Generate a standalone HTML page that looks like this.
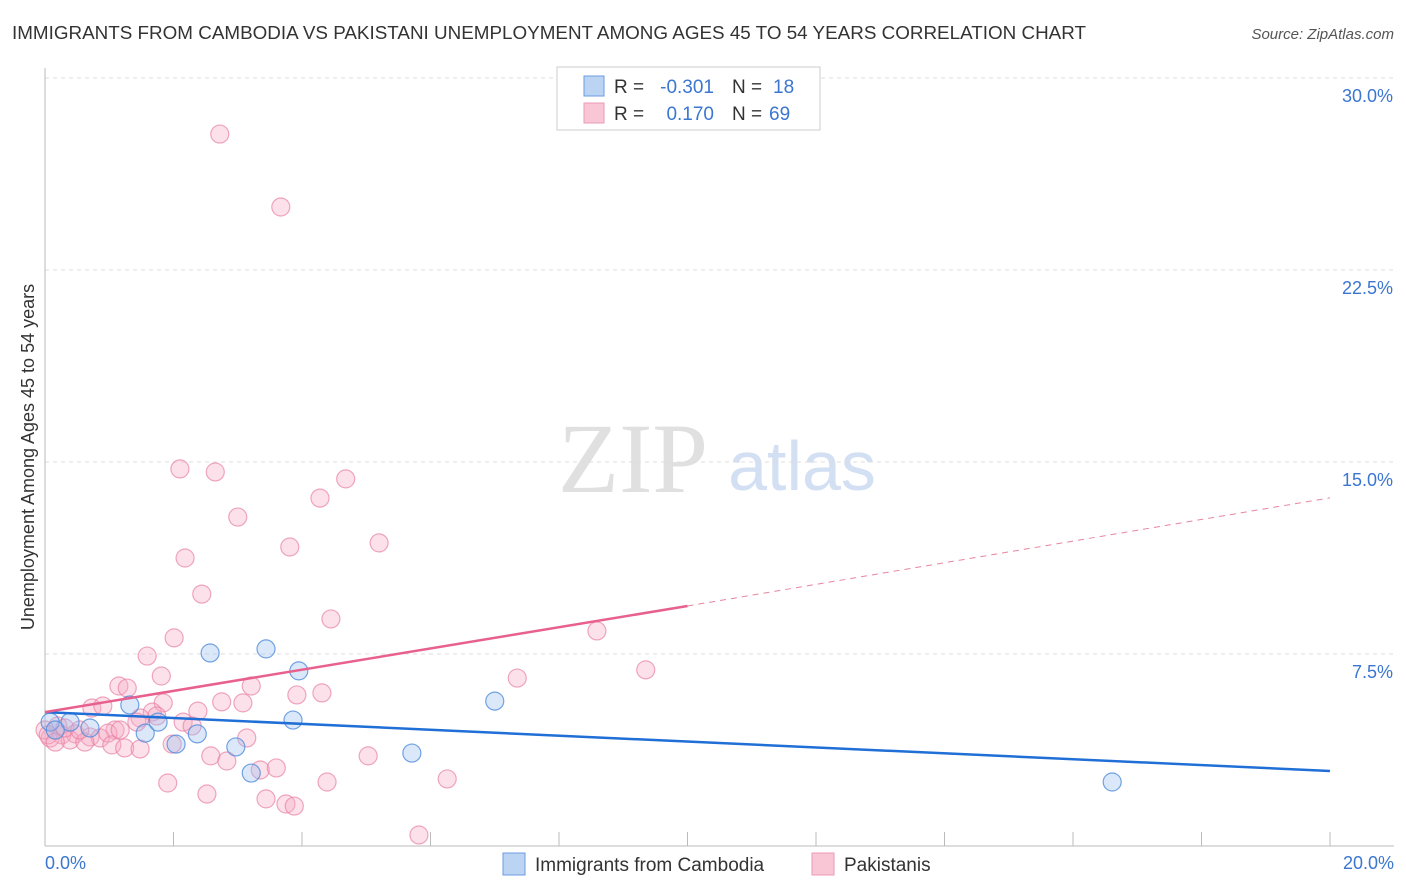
<!DOCTYPE html>
<html><head><meta charset="utf-8"><style>
body{margin:0;background:#fff;font-family:"Liberation Sans",sans-serif;}
</style></head><body>
<svg width="1406" height="892" viewBox="0 0 1406 892" style="position:absolute;left:0;top:0">
<text x="12" y="39" font-size="18" fill="#333" textLength="1074" lengthAdjust="spacingAndGlyphs">IMMIGRANTS FROM CAMBODIA VS PAKISTANI UNEMPLOYMENT AMONG AGES 45 TO 54 YEARS CORRELATION CHART</text>
<text x="1394" y="39" font-size="15" fill="#555" font-style="italic" text-anchor="end">Source: ZipAtlas.com</text>
<text x="633" y="492" font-size="100" fill="#e0e0e0" font-family="Liberation Serif,serif" text-anchor="middle">ZIP</text>
<text x="802" y="490" font-size="70" fill="#d3dff2" text-anchor="middle">atlas</text>
<g id="grid"></g>
<g id="axes"></g>
<g id="pts"></g>
<g id="lines"></g>
<text transform="translate(34,457) rotate(-90)" font-size="18" fill="#333" text-anchor="middle">Unemployment Among Ages 45 to 54 years</text>
<text x="45" y="869" font-size="18" fill="#3b76d0">0.0%</text>
<text x="1394" y="869" font-size="18" fill="#3b76d0" text-anchor="end">20.0%</text>
<g>
<rect x="557" y="67" width="263" height="63" fill="#fff" stroke="#ccc"/>
<rect x="584" y="76" width="20" height="20" fill="#bcd4f4" stroke="#6b9be0"/>
<rect x="584" y="103" width="20" height="20" fill="#f9c6d6" stroke="#eb9ab5"/>
<text x="614" y="93" font-size="19" fill="#333">R =</text>
<text x="714" y="93" font-size="19" fill="#3b76d0" text-anchor="end">-0.301</text>
<text x="732" y="93" font-size="19" fill="#333">N =</text>
<text x="773" y="93" font-size="19" fill="#3b76d0">18</text>
<text x="614" y="120" font-size="19" fill="#333">R =</text>
<text x="714" y="120" font-size="19" fill="#3b76d0" text-anchor="end">0.170</text>
<text x="732" y="120" font-size="19" fill="#333">N =</text>
<text x="769" y="120" font-size="19" fill="#3b76d0">69</text>
</g>
<g>
<rect x="503" y="853" width="22" height="22" fill="#bcd4f4" stroke="#6b9be0"/>
<text x="535" y="871" font-size="19" fill="#333">Immigrants from Cambodia</text>
<rect x="812" y="853" width="22" height="22" fill="#f9c6d6" stroke="#eb9ab5"/>
<text x="844" y="871" font-size="19" fill="#333">Pakistanis</text>
</g>
</svg>
<script>
const yTicks=[7.5,15,22.5,30];
const yTickLabels=["7.5%","15.0%","22.5%","30.0%"];
const xTicks=[2,4,6,8,10,12,14,16,18,20];
const blueX=[0.08,0.39,0.70,1.32,1.56,1.76,2.04,2.37,2.57,2.97,3.21,3.44,3.86,3.95,5.71,7.00,16.61,0.16];
const blueY=[4.84,4.84,4.61,5.51,4.41,4.84,3.98,4.38,7.54,3.87,2.85,7.70,4.92,6.84,3.63,5.66,2.50,4.53];
const pinkX=[2.72,3.67,2.10,2.65,4.68,4.28,3.00,5.20,3.81,2.18,2.44,4.45,8.59,2.01,1.59,9.35,1.81,7.35,1.15,1.28,3.21,3.92,4.31,2.75,3.08,1.84,0.73,0.90,1.67,2.38,1.48,1.74,2.15,2.29,1.43,1.09,0.20,0.47,0.70,0.86,0.98,0.26,0.08,0.39,0.62,1.04,1.24,1.48,1.98,3.14,2.58,2.83,3.35,3.60,5.03,1.91,2.52,4.39,6.26,3.44,3.75,3.88,5.82,0.0,0.05,0.16,0.31,0.54,1.17];
const pinkY=[27.81,24.96,14.73,14.61,14.34,13.59,12.85,11.84,11.68,11.25,9.84,8.87,8.40,8.13,7.42,6.88,6.64,6.56,6.25,6.17,6.25,5.90,5.98,5.63,5.59,5.59,5.39,5.47,5.23,5.27,5.00,5.08,4.84,4.69,4.84,4.53,4.69,4.38,4.26,4.22,4.41,4.34,4.22,4.14,4.06,3.95,3.83,3.79,3.98,4.22,3.52,3.32,2.97,3.05,3.52,2.46,2.03,2.50,2.62,1.84,1.64,1.56,0.43,4.53,4.34,4.06,4.61,4.53,4.53];
const blueTrend=[5.23,2.93];
const pinkTrend=[5.23,9.375,13.6];
const X=v=>45+v/20*1285, Y=v=>846-v/30*768;
const NS="http://www.w3.org/2000/svg";
function mk(tag,attrs,parent){const e=document.createElementNS(NS,tag);for(const k in attrs)e.setAttribute(k,attrs[k]);document.getElementById(parent).appendChild(e);return e;}
yTicks.forEach((t,i)=>{
 const g=mk('line',{x1:45,x2:1394,y1:Y(t),y2:Y(t),stroke:'#ddd','stroke-dasharray':'4,4'},'grid');
 
 
 const l=mk('text',{x:1393,y:Y(t)+24,'font-size':18,fill:'#3b76d0','text-anchor':'end'},'grid');
 l.textContent=yTickLabels[i];
 
 
});
const ya=mk('line',{x1:45,x2:45,y1:68,y2:846,stroke:'#bbb'},'axes');


const xa=mk('line',{x1:45,x2:1394,y1:846,y2:846,stroke:'#bbb'},'axes');


xTicks.forEach(t=>{
 const e=mk('line',{x1:X(t),x2:X(t),y1:832,y2:846,stroke:'#bbb'},'axes');
 
 
});
pinkX.forEach((x,i)=>{
 const c=mk('circle',{cx:X(x),cy:Y(pinkY[i]),r:9,fill:'rgba(246,170,195,0.35)',stroke:'rgba(232,130,165,0.7)','stroke-width':1.2},'pts');
 
 
});
blueX.forEach((x,i)=>{
 const c=mk('circle',{cx:X(x),cy:Y(blueY[i]),r:9,fill:'rgba(150,190,240,0.35)',stroke:'rgba(80,140,220,0.8)','stroke-width':1.2},'pts');
 
 
});
const bl=mk('line',{x1:X(0),y1:Y(blueTrend[0]),x2:X(20),y2:Y(blueTrend[1]),stroke:'#1f6fd6','stroke-width':2.5},'lines');


const pl=mk('line',{x1:X(0),y1:Y(pinkTrend[0]),x2:X(10),y2:Y(pinkTrend[1]),stroke:'#e8608e','stroke-width':2.5},'lines');


const pd=mk('line',{x1:X(10),y1:Y(pinkTrend[1]),x2:X(20),y2:Y(pinkTrend[2]),stroke:'#e8859f','stroke-width':1,'stroke-dasharray':'6,5'},'lines');


</script>
</body></html>
